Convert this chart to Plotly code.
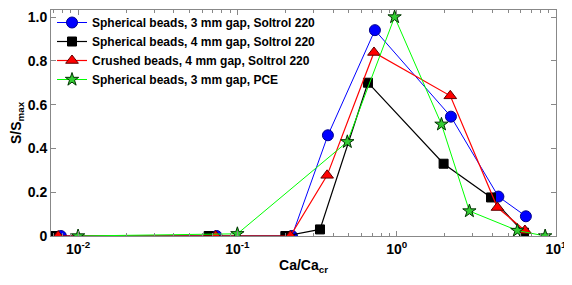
import plotly.graph_objects as go

# Data
x_sph3 = [0.0078, 0.074, 0.22, 0.37, 0.73, 2.19, 4.35, 6.47]
y_sph3 = [0, 0, 0, 0.46, 0.94, 0.545, 0.18, 0.09]

x_sph4 = [0.007, 0.066, 0.2, 0.33, 0.66, 1.97, 3.91, 6.3]
y_sph4 = [0, 0, 0, 0.03, 0.70, 0.33, 0.176, 0.015]

x_cr4 = [0.0075, 0.073, 0.215, 0.366, 0.72, 2.17, 4.29, 6.38]
y_cr4 = [0, 0, 0, 0.277, 0.838, 0.64, 0.13, 0.025]

x_pce = [0.01, 0.1, 0.49, 0.97, 1.91, 2.86, 5.72, 8.55]
y_pce = [0, 0.01, 0.43, 1.0, 0.51, 0.114, 0.025, 0]

names = [
    "Spherical beads, 3 mm gap, Soltrol 220",
    "Spherical beads, 4 mm gap, Soltrol 220",
    "Crushed beads, 4 mm gap, Soltrol 220",
    "Spherical beads, 3 mm gap, PCE",
]

x_tickvals = [0.01, 0.1, 1, 10]
x_ticktext = ["10<sup>-2</sup>", "10<sup>-1</sup>", "10<sup>0</sup>", "10<sup>1</sup>"]
y_tickvals = [0, 0.2, 0.4, 0.6, 0.8, 1.0]
y_ticktext = ["0", "0.2", "0.4", "0.6", "0.8", "1.0"]

FONT = "Liberation Sans, Arial, sans-serif"

fig = go.Figure()
fig.add_trace(go.Scatter(
    x=x_sph3, y=y_sph3, name=names[0], mode="lines+markers",
    line=dict(color="#0000ff", width=1),
    marker=dict(symbol="circle", size=11, color="#0000ff", line=dict(color="#00008b", width=1)),
))
fig.add_trace(go.Scatter(
    x=x_sph4, y=y_sph4, name=names[1], mode="lines+markers",
    line=dict(color="#000000", width=1.2),
    marker=dict(symbol="square", size=9, color="#000000", line=dict(color="#000000", width=1)),
))
fig.add_trace(go.Scatter(
    x=x_cr4, y=y_cr4, name=names[2], mode="lines+markers",
    line=dict(color="#ff0000", width=1.2),
    marker=dict(symbol="triangle-up", size=11, color="#ff0000", line=dict(color="#600000", width=1)),
))
fig.add_trace(go.Scatter(
    x=x_pce, y=y_pce, name=names[3], mode="lines+markers",
    line=dict(color="#00ff00", width=1),
    marker=dict(symbol="star", size=10, color="#33cc33", line=dict(color="#003300", width=1)),
))

fig.update_layout(
    width=564, height=277,
    margin=dict(l=43, r=16, t=0, b=49),
    paper_bgcolor="white", plot_bgcolor="white",
    font=dict(family=FONT, size=14, color="black", weight="bold"),
    showlegend=True,
    legend=dict(
        x=0.002, y=1.011, xanchor="left", yanchor="top",
        bgcolor="rgba(0,0,0,0)", borderwidth=0,
        font=dict(family=FONT, size=12, color="black", weight="bold"),
        tracegroupgap=0, itemwidth=30,
    ),
    xaxis=dict(
        type="log", range=[-2.17, 1],
        tickvals=x_tickvals, ticktext=x_ticktext,
        ticks="inside", ticklen=5, tickcolor="#888888",
        showline=True, linecolor="#888888", linewidth=1, mirror="ticks",
        showgrid=False, zeroline=False,
        tickfont=dict(family=FONT, size=14, color="black", weight="bold"),
        minor=dict(ticks="inside", ticklen=3, tickcolor="#888888", dtick="D1", showgrid=False),
        title=dict(text="Ca/Ca<sub>cr</sub>", font=dict(family=FONT, size=14, color="black", weight="bold"), standoff=4),
    ),
    yaxis=dict(
        range=[0, 1.032],
        tickvals=y_tickvals, ticktext=y_ticktext,
        ticks="inside", ticklen=5, tickcolor="#888888",
        showline=True, linecolor="#888888", linewidth=1, mirror="ticks",
        showgrid=False, zeroline=False,
        tickfont=dict(family=FONT, size=14, color="black", weight="bold"),
        title=dict(text="S/S<sub>max</sub>", font=dict(family=FONT, size=14, color="black", weight="bold"), standoff=6),
    ),
)

fig.write_html("out.html")
